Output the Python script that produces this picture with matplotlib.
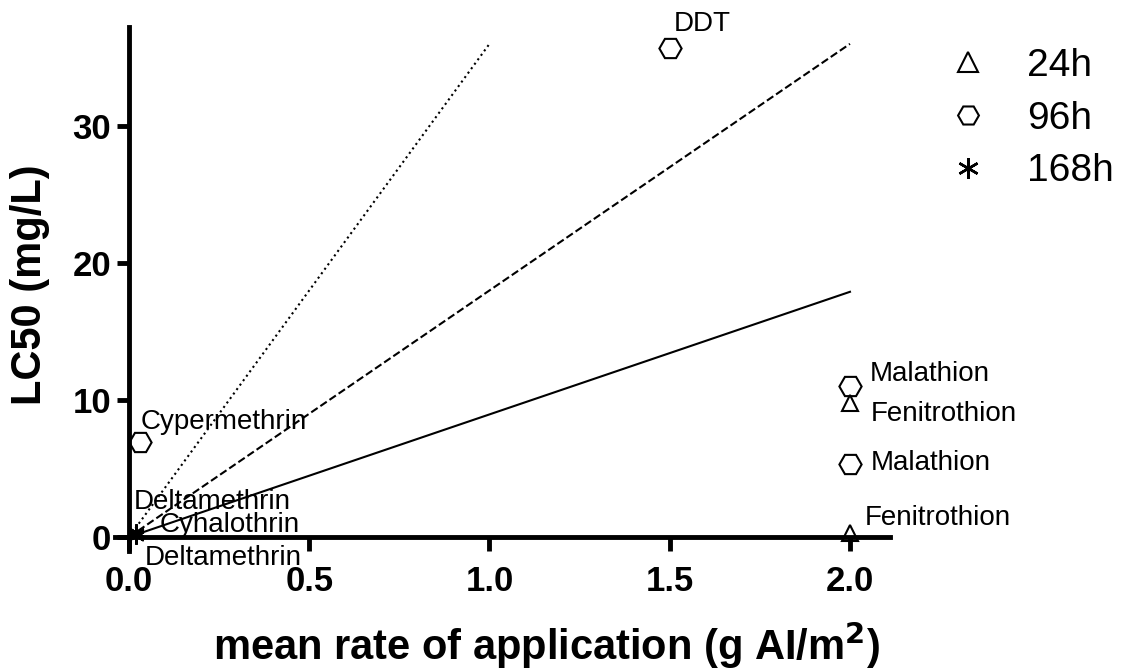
import matplotlib
matplotlib.use("Agg")
import matplotlib.pyplot as plt
from matplotlib.lines import Line2D

plt.rcParams['font.family'] = ['Liberation Sans', 'DejaVu Sans']

# Reference lines (from origin to end point)
line_x_end = [2.0, 2.0, 1.0]
line_y_end = [17.9, 36.0, 36.0]
line_styles = ['-', '--', ':']

# 24h data (triangles)
h24_names = ['Fenitrothion', 'Fenitrothion']
h24_x = [2.0, 2.0]
h24_y = [9.8, 0.3]

# 96h data (hexagons)
h96_names = ['DDT', 'Cypermethrin', 'Malathion', 'Malathion']
h96_x = [1.5, 0.03, 2.0, 2.0]
h96_y = [35.7, 6.9, 11.0, 5.3]

# 168h data (asterisks)
h168_names = ['Deltamethrin', 'Cyhalothrin', 'Deltamethrin']
h168_x = [0.02, 0.02, 0.02]
h168_y = [0.35, 0.2, 0.1]

xticks = [0.0, 0.5, 1.0, 1.5, 2.0]
xticklabels = ['0.0', '0.5', '1.0', '1.5', '2.0']
yticks = [0, 10, 20, 30]
yticklabels = ['0', '10', '20', '30']

# label offsets in points (text placement)
h24_off = [(15, -8), (11, 11)]
h96_off = [(3, 17), (0.7, 15), (14.4, 8.6), (15, 0.7)]
h168_off = [(-2, 21.6), (17, 7), (6.5, -16)]

fig = plt.figure(figsize=(11.21, 6.72), dpi=100)
ax = fig.add_axes([0.1022, 0.1805, 0.6914, 0.7787])
ax.set_xlim(-0.04, 2.11)
ax.set_ylim(-1.0, 37.2)

for xe, ye, ls in zip(line_x_end, line_y_end, line_styles):
    ax.plot([0, xe], [0, ye], color='black', lw=1.5, ls=ls, zorder=2)

mk = dict(ls='none', mfc='none', mec='black', mew=1.5, zorder=3, clip_on=False)
ax.plot(h24_x, h24_y, marker='^', ms=11, **mk)
ax.plot(h96_x, h96_y, marker='H', ms=16, **mk)
ax.plot(h168_x, h168_y, marker=(6, 2, 0), ms=12, **mk)

txt = dict(textcoords='offset points', ha='left', va='center', fontsize=20, color='black')
for n, x, y, o in zip(h24_names, h24_x, h24_y, h24_off):
    ax.annotate(n, (x, y), xytext=o, **txt)
for n, x, y, o in zip(h96_names, h96_x, h96_y, h96_off):
    ax.annotate(n, (x, y), xytext=o, **txt)
for n, x, y, o in zip(h168_names, h168_x, h168_y, h168_off):
    ax.annotate(n, (x, y), xytext=o, **txt)

for s in ['top', 'right']:
    ax.spines[s].set_visible(False)
ax.spines['left'].set_position(('data', 0))
ax.spines['bottom'].set_position(('data', 0))
for s in ['left', 'bottom']:
    ax.spines[s].set_linewidth(3.5)
    ax.spines[s].set_zorder(1)

ax.set_xticks(xticks)
ax.set_xticklabels(xticklabels)
ax.set_yticks(yticks)
ax.set_yticklabels(yticklabels)
ax.tick_params(axis='x', direction='out', length=10, width=3.5, pad=10, labelsize=25)
ax.tick_params(axis='y', direction='out', length=9, width=3.5, pad=4, labelsize=25)
for lab in ax.get_xticklabels() + ax.get_yticklabels():
    lab.set_fontweight('bold')

fig.text(213 / 1121, 1 - 645 / 672, 'mean rate of application (g AI/m$^{\\mathbf{2}}$)',
         ha='left', va='center', fontsize=30, fontweight='bold')
fig.text(30 / 1121, 1 - 285 / 672, 'LC50 (mg/L)', rotation=90, ha='center', va='center',
         fontsize=30, fontweight='bold')

handles = [
    Line2D([], [], marker='^', ls='none', mfc='none', mec='black', mew=1.5, ms=14),
    Line2D([], [], marker='H', ls='none', mfc='none', mec='black', mew=1.5, ms=15),
    Line2D([], [], marker=(6, 2, 0), ls='none', mfc='none', mec='black', mew=1.8, ms=15),
]
fig.legend(handles, ['24h', '96h', '168h'], loc='upper left',
           bbox_to_anchor=(949 / 1121, 1 - 48 / 672), frameon=False, fontsize=28,
           handlelength=1.0, handletextpad=1.0, labelspacing=0.43, borderaxespad=0, borderpad=0)

fig.savefig('out.png', dpi=100)
